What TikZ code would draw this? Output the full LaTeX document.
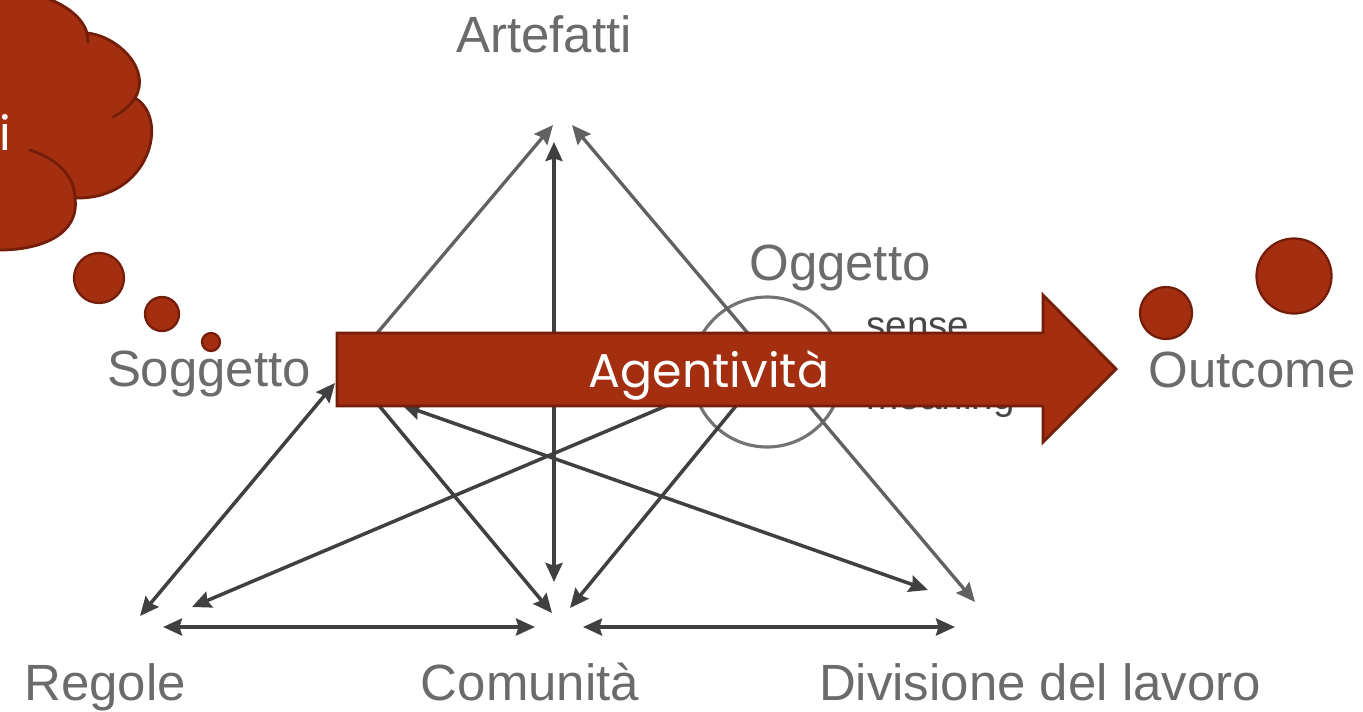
\documentclass[tikz,border=0pt]{standalone}
\usepackage{fontspec}
\setmainfont{Liberation Sans}
\newfontfamily\gothic{Poppins}
\usetikzlibrary{arrows.meta}
\definecolor{rust}{RGB}{164,46,16}
\definecolor{rustdk}{RGB}{116,30,10}
\tikzset{
  lb/.style={font=\fontsize{29}{34}\selectfont,text=black!58,inner sep=0pt,anchor=base},
  sm/.style={font=\fontsize{22}{26}\selectfont,text=black!72,inner sep=0pt,anchor=base west},
  lnk/.style={draw=black!75,line width=2.0pt},
  lnkl/.style={draw=black!62,line width=1.9pt},
  tp/.tip={Stealth[length=0.38cm,width=0.34cm,inset=0.05cm]},
  one/.style={-tp},
  two/.style={tp-tp},
  objc/.style={circle,draw=black!55,line width=1.8pt,minimum size=3.0cm,inner sep=0pt},
  blob/.style={fill=rust,draw=rustdk,line width=1.6pt},
  cloudln/.style={draw=rustdk,line width=1.6pt,line cap=round},
  bub/.style={circle,blob,inner sep=0pt,line width=1.3pt},
  wt/.style={font=\gothic\fontsize{27}{30}\selectfont,text=white,inner sep=0pt,anchor=base},
}

\begin{document}
\begin{tikzpicture}[x=0.02cm,y=-0.02cm]
\useasboundingbox (0,0) rectangle (1363,711);
% the activity system
\node[lb] (art) at (544,52) {Artefatti};
\node[lb] (ogg) at (840,280) {Oggetto};
\node[lb] (sog) at (209,386) {Soggetto};
\node[lb] (out) at (1252,387) {Outcome};
\node[lb] (reg) at (105,700) {Regole};
\node[lb] (com) at (530,700) {Comunità};
\node[lb] (div) at (1040,700) {Divisione del lavoro};
\node[objc] (obj) at (767,372) {};
% end points at the corners
\coordinate (a1) at (553,125); \coordinate (a2) at (554,142);
\coordinate (a3) at (572,125);
\coordinate (s1) at (346,370); \coordinate (s2) at (335,383);
\coordinate (s3) at (366,390); \coordinate (s4) at (402,405);
\coordinate (o1) at (720,383); \coordinate (o2) at (749,390);
\coordinate (r1) at (140,616); \coordinate (r2) at (192,607);
\coordinate (r3) at (163,627);
\coordinate (c1) at (535,627); \coordinate (c2) at (552,613);
\coordinate (c3) at (570,608); \coordinate (c4) at (554,582);
\coordinate (c5) at (583,627);
\coordinate (d1) at (955,627); \coordinate (d2) at (928,590);
\coordinate (d3) at (975,602);
\draw[lnkl,one] (s1) -- (a1);
\draw[lnkl,two] (d3) -- (a3);
\draw[lnk,two] (c4) -- (a2);
\draw[lnk,two] (s2) -- (r1);
\draw[lnk,one] (o1) -- (r2);
\draw[lnk,two] (r3) -- (c1);
\draw[lnk,two] (c5) -- (d1);
\draw[lnk,one] (s3) -- (c2);
\draw[lnk,one] (o2) -- (c3);
\draw[lnk,two] (s4) -- (d2);
\node[sm] (sense) at (866,338) {sense};
\node[sm] (mean) at (866,409) {meaning};
% block arrow
\filldraw[blob] (337,333) -- (1043,333) -- (1043,295) -- (1116,369)
  -- (1043,442) -- (1043,406) -- (337,406) -- cycle;
\node[wt] (agt) at (709,387) {Agentività};
% cloud, cut by the frame
\filldraw[blob] (-40,-40) -- (20,-40) -- (20,-8) .. controls (55,-4) and (82,14) .. (87,33)
  .. controls (118,36) and (152,70) .. (135,98)
  .. controls (170,118) and (150,200) .. (75,198)
  .. controls (80,235) and (40,250) .. (0,250)
  -- (-40,250) -- cycle;
\draw[cloudln] (87,33) -- (88,42);
\draw[cloudln] (113,117) .. controls (122,112) and (130,106) .. (135,98);
\draw[cloudln] (30,150) .. controls (55,158) and (75,175) .. (75,198);
\node[wt,anchor=base west] (cl) at (-1,150) {i};
% thought bubbles
\node[bub,minimum size=1.0cm] (b1) at (99,278) {};
\node[bub,minimum size=0.68cm] (b2) at (162,314) {};
\node[bub,minimum size=0.36cm] (b3) at (211,342) {};
\node[bub,minimum size=1.04cm] (b4) at (1166,313) {};
\node[bub,minimum size=1.5cm] (b5) at (1294,276) {};
\end{tikzpicture}
\end{document}
